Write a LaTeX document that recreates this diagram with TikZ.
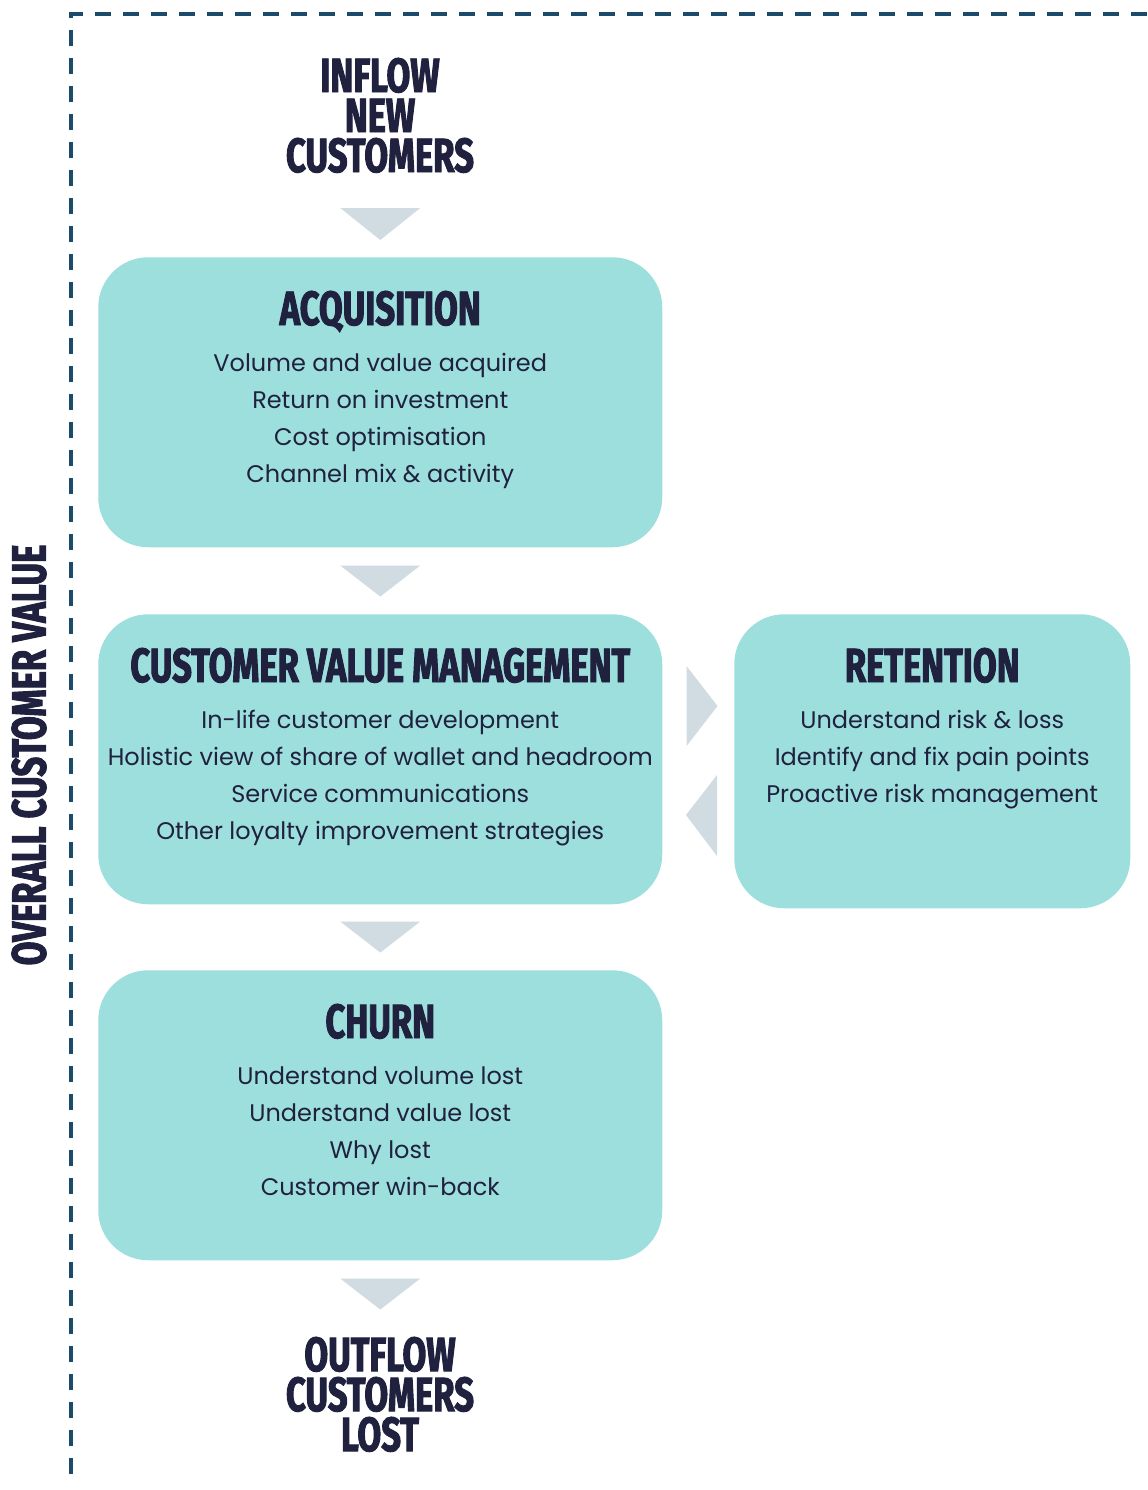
\documentclass[tikz,border=0pt]{standalone}
\usepackage{fontspec}
\usetikzlibrary{calc}
\setmainfont{Poppins}
\newfontfamily\headfont{Fira Sans}[FakeStretch=0.72,FakeBold=2]
\definecolor{boxfill}{HTML}{9DDFDC}
\definecolor{arrowfill}{HTML}{D0DBE2}
\definecolor{framecol}{HTML}{1B4B6B}
\definecolor{ink}{HTML}{20203F}
\begin{document}
\begin{tikzpicture}[x=0.75pt,y=-0.75pt,
  frame/.style={draw=framecol,line width=2.7pt,dash pattern=on 12pt off 9pt},
  panel/.style={fill=boxfill,rounded corners=37.5pt,inner sep=0pt,minimum width=423pt,minimum height=217.5pt},
  head/.style={text=ink,font=\headfont\bfseries\fontsize{36}{30}\selectfont,align=center,inner sep=0pt},
  body/.style={text=ink,font=\fontsize{18}{27.75}\selectfont,align=center,inner sep=0pt},
  flow/.style={fill=arrowfill}]
\useasboundingbox (0,0) rectangle (1147,1490);
% outer dashed frame
\draw[frame] (1147,14) -- (71,14) -- (71,1480);
\node[head,rotate=90] (ocv) at (29,755) {OVERALL CUSTOMER VALUE};

% inflow label (base = baseline of its last line)
\node[head,anchor=base] (inflow) at (380,172) {INFLOW\\NEW\\CUSTOMERS};

% panels
\node[panel,anchor=north west] (acq) at (98,257) {};
\node[panel,anchor=north west] (cvm) at (98,614) {};
\node[panel,anchor=north west,minimum width=297pt,minimum height=220.5pt] (ret) at (734,614) {};
\node[panel,anchor=north west] (churn) at (98,970) {};

% panel titles
\node[head,anchor=base] (acqT) at ($(acq.north)+(0,68)$) {ACQUISITION};
\node[head,anchor=base] (cvmT) at ($(cvm.north)+(0,68)$) {CUSTOMER VALUE MANAGEMENT};
\node[head,anchor=base] (retT) at ($(ret.north)+(0,68)$) {RETENTION};
\node[head,anchor=base] (churnT) at ($(churn.north)+(0,68)$) {CHURN};

% panel contents (base = baseline of the last line)
\node[body,anchor=base] (acqB) at ($(acq.north)+(0,225)$) {Volume and value acquired\\Return on investment\\Cost optimisation\\Channel mix \& activity};
\node[body,anchor=base] (cvmB) at ($(cvm.north)+(0,225)$) {In-life customer development\\Holistic view of share of wallet and headroom\\Service communications\\Other loyalty improvement strategies};
\node[body,anchor=base] (retB) at ($(ret.north)+(0,188)$) {Understand risk \& loss\\Identify and fix pain points\\Proactive risk management};
\node[body,anchor=base] (churnB) at ($(churn.north)+(0,225)$) {Understand volume lost\\Understand value lost\\Why lost\\Customer win-back};

% outflow label
\node[head,anchor=base] (outflow) at (380,1451) {OUTFLOW\\CUSTOMERS\\LOST};

% flow arrows between stages
\fill[flow] ($(acq.north)+(-40,-49)$) -- ($(acq.north)+(40,-49)$) -- ($(acq.north)+(0,-17)$) -- cycle;
\fill[flow] ($(acq.south)+(-40,18)$) -- ($(acq.south)+(40,18)$) -- ($(acq.south)+(0,49)$) -- cycle;
\fill[flow] ($(cvm.south)+(-40,17)$) -- ($(cvm.south)+(40,17)$) -- ($(cvm.south)+(0,48)$) -- cycle;
\fill[flow] ($(churn.south)+(-40,18)$) -- ($(churn.south)+(40,18)$) -- ($(churn.south)+(0,49)$) -- cycle;
% exchange between value management and retention
\fill[flow] ($(cvm.north east)+(24,52)$) -- ($(cvm.north east)+(55,92)$) -- ($(cvm.north east)+(24,132)$) -- cycle;
\fill[flow] ($(ret.north west)+(-17,161)$) -- ($(ret.north west)+(-48,201)$) -- ($(ret.north west)+(-17,242)$) -- cycle;
\end{tikzpicture}
\end{document}
